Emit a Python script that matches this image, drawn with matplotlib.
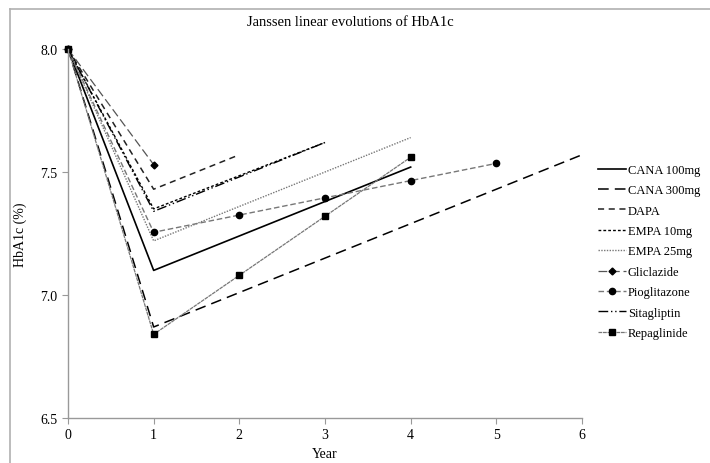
import matplotlib
matplotlib.use("Agg")
import matplotlib.pyplot as plt
from matplotlib.lines import Line2D

plt.rcParams['font.family'] = ['Liberation Serif', 'DejaVu Serif']

title = "Janssen linear evolutions of HbA1c"
xlabel = "Year"
ylabel = "HbA1c (%)"

names = ["CANA 100mg", "CANA 300mg", "DAPA", "EMPA 10mg", "EMPA 25mg",
         "Gliclazide", "Pioglitazone", "Sitagliptin", "Repaglinide"]

cana100_x = [0, 1, 4]
cana100_y = [8.0, 7.10, 7.52]
cana300_x = [0, 1, 6]
cana300_y = [8.0, 6.87, 7.57]
dapa_x = [0, 1, 2]
dapa_y = [8.0, 7.43, 7.57]
empa10_x = [0, 1, 3]
empa10_y = [8.0, 7.35, 7.62]
empa25_x = [0, 1, 4]
empa25_y = [8.0, 7.22, 7.64]
glic_x = [0, 1]
glic_y = [8.0, 7.53]
pio_x = [0, 1, 2, 3, 4, 5]
pio_y = [8.0, 7.255, 7.325, 7.395, 7.465, 7.535]
sita_x = [0, 1, 3]
sita_y = [8.0, 7.34, 7.62]
repa_x = [0, 1, 2, 3, 4]
repa_y = [8.0, 6.84, 7.08, 7.32, 7.56]

xticks = [0, 1, 2, 3, 4, 5, 6]
yticks = [6.5, 7.0, 7.5, 8.0]

fig = plt.figure(figsize=(7.1, 4.64), dpi=100)
# outer frame (top and left edges visible in the reference)
fig.add_artist(Line2D([10/710, 10/710], [0, 1 - 10/464], transform=fig.transFigure,
                      color='#b0b0b0', lw=1.2))
fig.add_artist(Line2D([10/710, 1], [1 - 10/464, 1 - 10/464], transform=fig.transFigure,
                      color='#b0b0b0', lw=1.2))

ax = fig.add_axes([68/710, 1 - 419/464, (582-68)/710, (419-50)/464])

series = [
    (cana100_x, cana100_y, dict(color='black', lw=1.2, ls='-')),
    (cana300_x, cana300_y, dict(color='black', lw=1.1, ls=(0, (7, 4)))),
    (dapa_x, dapa_y, dict(color='#222222', lw=1.1, ls=(0, (4, 3)))),
    (empa10_x, empa10_y, dict(color='black', lw=1.0, ls=(0, (2, 1.5)))),
    (empa25_x, empa25_y, dict(color='#777777', lw=1.0, ls=(0, (1, 1)))),
    (glic_x, glic_y, dict(color='#555555', lw=0.9, ls=(0, (7, 3)),
                          marker='D', ms=3.5, mfc='black', mec='black')),
    (pio_x, pio_y, dict(color='#777777', lw=1.0, ls=(0, (4, 2)),
                        marker='o', ms=4.5, mfc='black', mec='black')),
    (sita_x, sita_y, dict(color='black', lw=1.0, ls=(0, (7, 2, 1, 2, 1, 2)))),
    (repa_x, repa_y, dict(color='#777777', lw=0.9, ls=(0, (3, 0.6)),
                          marker='s', ms=4.5, mfc='black', mec='black')),
]

for (xs, ys, st), nm in zip(series, names):
    ax.plot(xs, ys, label=nm, clip_on=False, **st)

ax.set_xlim(0, 6)
ax.set_ylim(6.5, 8.0)
ax.set_xticks(xticks)
ax.set_yticks(yticks)
ax.set_yticklabels([f"{v:.1f}" for v in yticks])
for s in ['top', 'right']:
    ax.spines[s].set_visible(False)
for s in ['left', 'bottom']:
    ax.spines[s].set_color('#999999')
    ax.spines[s].set_linewidth(1.0)
ax.tick_params(axis='both', colors='#999999', labelcolor='black',
               labelsize=10, length=4, direction='out')
ax.set_xlabel(xlabel, fontsize=10, labelpad=4)
ax.set_ylabel(ylabel, fontsize=10, labelpad=10)

fig.text(350/710, 1 - 22/464, title, ha='center', va='center', fontsize=10.5)

leg = ax.legend(loc='upper left', bbox_to_anchor=(598/710, 1 - 165/464),
                bbox_transform=fig.transFigure, frameon=False, fontsize=9,
                handlelength=2.2, handletextpad=0.2, labelspacing=0.67,
                borderaxespad=0, borderpad=0)

fig.savefig("out.png", dpi=100)
